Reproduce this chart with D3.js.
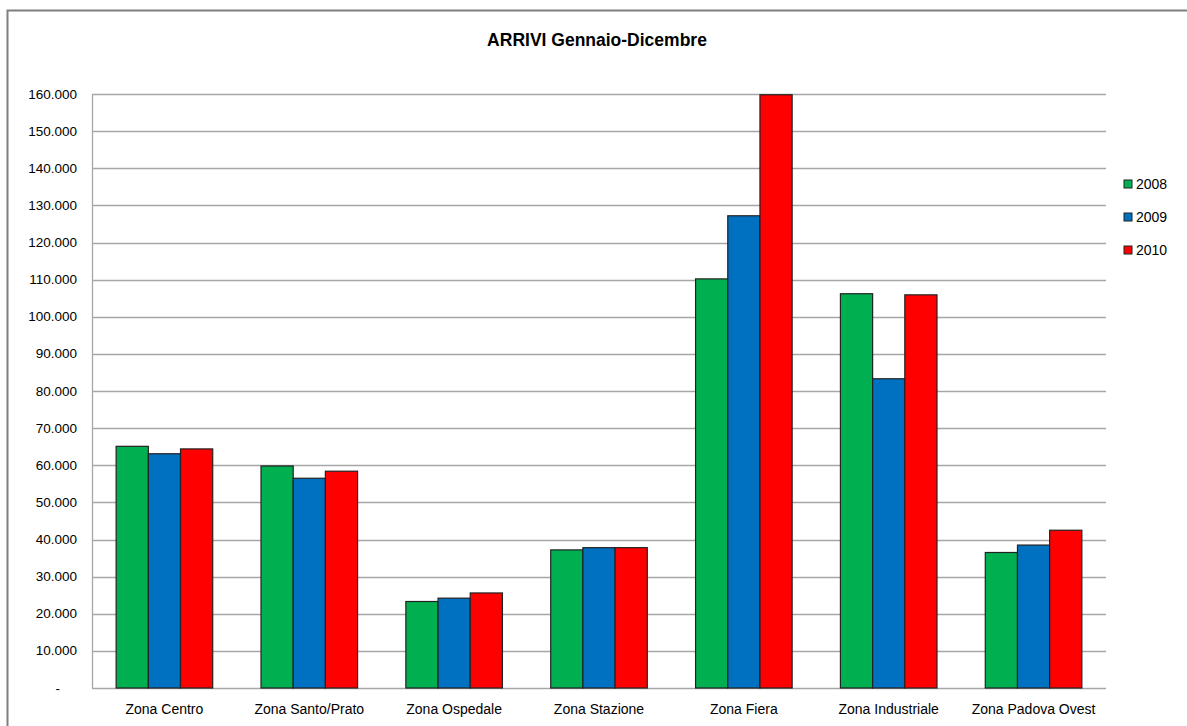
<!DOCTYPE html>
<html>
<head>
<meta charset="utf-8">
<script src="https://cdn.jsdelivr.net/npm/d3@7"></script>
<style>
  html, body { margin: 0; padding: 0; background: #fff; }
  svg { display: block; font-family: "Liberation Sans", Arial, Helvetica, sans-serif; }
</style>
</head>
<body>
<svg id="chart" width="1187" height="726"></svg>
<script>
// Arrivals by zone, January–December
const zones = ["Zona Centro", "Zona Santo/Prato", "Zona Ospedale", "Zona Stazione",
               "Zona Fiera", "Zona Industriale", "Zona Padova Ovest"];
const years = ["2008", "2009", "2010"];
const arrivals2008 = [65100, 59800, 23300, 37200, 110200, 106200, 36500];
const arrivals2009 = [63100, 56500, 24200, 37800, 127200, 83300, 38500];
const arrivals2010 = [64400, 58400, 25600, 37800, 159800, 105900, 42500];
const yearColors = ["#00b050", "#0070c0", "#ff0000"];
const yTicks = [0, 10000, 20000, 30000, 40000, 50000, 60000, 70000, 80000,
                90000, 100000, 110000, 120000, 130000, 140000, 150000, 160000];

const series = [arrivals2008, arrivals2009, arrivals2010];

const svg = d3.select("#chart");
const W = 1187, H = 726;
const plot = { left: 92, right: 1106, top: 94, bottom: 688 };

// frame around the chart
svg.append("path")
  .attr("d", `M7.5,${H} L7.5,10.5 L${W},10.5`)
  .attr("fill", "none")
  .attr("stroke", "#7f7f7f")
  .attr("stroke-width", 2);

svg.append("text")
  .attr("x", 597).attr("y", 46)
  .attr("text-anchor", "middle")
  .attr("font-size", 17.5).attr("font-weight", "bold")
  .attr("fill", "#000")
  .text("ARRIVI Gennaio-Dicembre");

const x = d3.scaleBand().domain(zones).range([plot.left, plot.right]).paddingInner(0).paddingOuter(0);
const y = d3.scaleLinear().domain([0, 160000]).range([plot.bottom, plot.top]);

const groupFrac = 2 / 3;
const xInner = d3.scaleBand().domain(years)
  .range([x.bandwidth() * (1 - groupFrac) / 2, x.bandwidth() * (1 + groupFrac) / 2]);

// horizontal gridlines
svg.append("g")
  .selectAll("line")
  .data(yTicks)
  .join("line")
  .attr("x1", plot.left).attr("x2", plot.right)
  .attr("y1", d => Math.round(y(d)) + 0.5).attr("y2", d => Math.round(y(d)) + 0.5)
  .attr("stroke", "#a6a6a6").attr("stroke-width", 1.3);

// y-axis labels
const fmt = v => v === 0 ? "-" : d3.format(",")(v).replace(/,/g, ".");
svg.append("g")
  .selectAll("text")
  .data(yTicks)
  .join("text")
  .attr("x", d => d === 0 ? 60 : 77)
  .attr("y", d => y(d) + 4.5)
  .attr("text-anchor", "end")
  .attr("font-size", 13.5)
  .attr("fill", "#000")
  .text(fmt);

// left axis line
svg.append("line")
  .attr("x1", plot.left + 0.5).attr("x2", plot.left + 0.5)
  .attr("y1", plot.top).attr("y2", plot.bottom)
  .attr("stroke", "#a6a6a6").attr("stroke-width", 1.3);

// bars
const groups = svg.append("g").selectAll("g")
  .data(zones)
  .join("g")
  .attr("transform", d => `translate(${x(d)},0)`);

groups.selectAll("rect")
  .data((z, i) => years.map((yr, k) => ({ yr, k, v: series[k][i] })))
  .join("rect")
  .attr("x", d => xInner(d.yr))
  .attr("width", xInner.bandwidth())
  .attr("y", d => y(d.v))
  .attr("height", d => y(0) - y(d.v))
  .attr("fill", d => yearColors[d.k])
  .attr("stroke", "#222")
  .attr("stroke-width", 1.2);

// category labels
svg.append("g")
  .selectAll("text")
  .data(zones)
  .join("text")
  .attr("x", d => x(d) + x.bandwidth() / 2)
  .attr("y", 714)
  .attr("text-anchor", "middle")
  .attr("font-size", 14)
  .attr("fill", "#000")
  .text(d => d);

// legend
const legend = svg.append("g").selectAll("g")
  .data(years)
  .join("g")
  .attr("transform", (d, i) => `translate(1124,${180 + i * 33})`);
legend.append("rect")
  .attr("width", 8).attr("height", 8)
  .attr("fill", (d, i) => yearColors[i])
  .attr("stroke", "#222").attr("stroke-width", 1);
legend.append("text")
  .attr("x", 12).attr("y", 9)
  .attr("font-size", 14)
  .attr("fill", "#000")
  .text(d => d);
</script>
</body>
</html>
